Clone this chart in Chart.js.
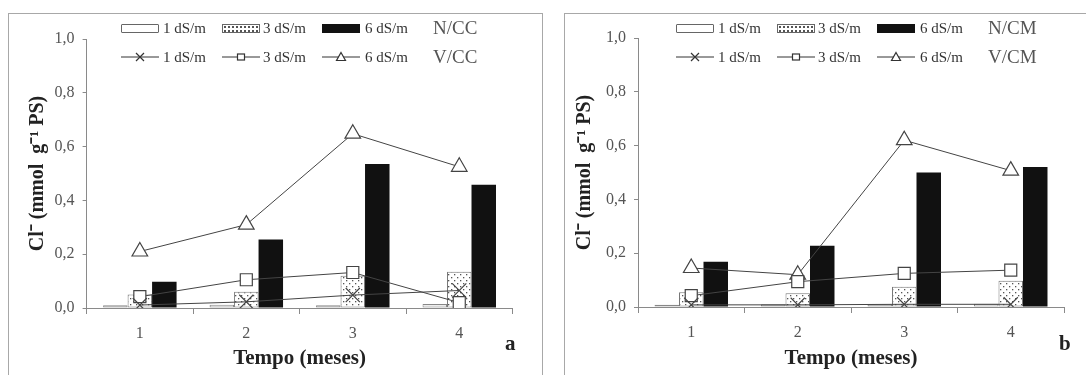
<!DOCTYPE html>
<html>
<head>
<meta charset="utf-8">
<script src="https://cdn.jsdelivr.net/npm/chart.js@4.4.0/dist/chart.umd.min.js"></script>
<style>
body{margin:0;background:#fff;width:1086px;height:375px;overflow:hidden;position:relative;font-family:'Liberation Serif',serif}
.frame{position:absolute;border:1px solid #a8a8a8}
canvas{position:absolute;top:0}
.lg{position:absolute;font-size:15px;color:#333;line-height:16px;white-space:nowrap}
.tag{position:absolute;font-size:19px;color:#555;line-height:20px;white-space:nowrap}
.sw{position:absolute;height:9px;width:38px;box-sizing:border-box}
.letter{position:absolute;font-size:21px;font-weight:bold;color:#222}
</style>
</head>
<body>
<div class="frame" style="left:8px;top:13px;width:533px;height:420px"></div>
<div class="frame" style="left:564px;top:13px;width:600px;height:420px"></div>
<canvas id="chA" width="543" height="375" style="left:0"></canvas>
<canvas id="chB" width="543" height="375" style="left:543px"></canvas>
<div id="legends"></div>
<div class="letter" style="left:505px;top:331px">a</div>
<div class="letter" style="left:1059px;top:331px">b</div>
<script>
// ── Data ──
const months=['1','2','3','4'];
const levels=['1 dS/m','3 dS/m','6 dS/m'];
const yTicks=[0,0.2,0.4,0.6,0.8,1.0];

// Panel a: N/CC bars, V/CC lines
const barsCC1=[0.010,0.012,0.010,0.015];
const barsCC3=[0.050,0.060,0.120,0.135];
const barsCC6=[0.098,0.255,0.535,0.458];
const lineCC1=[0.011,0.023,0.048,0.065];
const lineCC3=[0.042,0.105,0.132,0.020];
const lineCC6=[0.210,0.310,0.648,0.525];

// Panel b: N/CM bars, V/CM lines
const barsCM1=[0.008,0.010,0.010,0.012];
const barsCM3=[0.055,0.051,0.075,0.098];
const barsCM6=[0.168,0.228,0.500,0.520];
const lineCM1=[0.008,0.008,0.010,0.010];
const lineCM3=[0.042,0.094,0.125,0.137];
const lineCM6=[0.145,0.120,0.620,0.507];

const SERIF="'Liberation Serif', 'Times New Roman', serif";
const AXIS='#8a8a8a';
const LINE='#444';

// stippled fill for 3 dS/m bars
function dotPattern(){
  const c=document.createElement('canvas');c.width=6;c.height=6;
  const g=c.getContext('2d');
  g.fillStyle='#fff';g.fillRect(0,0,6,6);
  g.fillStyle='#555';g.fillRect(1,1,1.3,1.3);g.fillRect(4,4,1.3,1.3);
  return g.createPattern(c,'repeat');
}

function makePanel(id,bars,lines,pad){
  const ctx=document.getElementById(id).getContext('2d');
  const barStyle=[
    {backgroundColor:'#ececec',borderColor:'#888',borderWidth:1},
    {backgroundColor:dotPattern(),borderColor:'#777',borderWidth:1},
    {backgroundColor:'#111',borderColor:'#111',borderWidth:0}
  ];
  const lineStyle=[
    {pointStyle:'crossRot',pointRadius:10},
    {pointStyle:'rect',pointRadius:8.5},
    {pointStyle:'triangle',pointRadius:9}
  ];
  const ds=[];
  lines.forEach((d,i)=>ds.push({type:'line',label:levels[i],data:d,order:0,
    borderColor:LINE,borderWidth:1,backgroundColor:'#fff',pointBorderColor:LINE,
    pointBackgroundColor:'#fff',pointBorderWidth:1.2,tension:0,...lineStyle[i]}));
  bars.forEach((d,i)=>ds.push({type:'bar',label:levels[i],data:d,order:1,
    categoryPercentage:0.69,barPercentage:1,borderSkipped:false,...barStyle[i]}));

  return new Chart(ctx,{
    type:'bar',
    data:{labels:months,datasets:ds},
    options:{
      responsive:false,animation:false,
      layout:{padding:{left:pad.left,right:pad.right,top:pad.top,bottom:0}},
      plugins:{legend:{display:false},tooltip:{enabled:false}},
      scales:{
        x:{
          offset:true,
          afterFit:s=>{s.height=pad.xh},
          grid:{display:true,drawOnChartArea:false,drawTicks:true,tickLength:6,color:AXIS,offset:true},
          border:{display:true,color:AXIS,width:1},
          ticks:{color:'#555',font:{family:SERIF,size:16},padding:10},
          title:{display:true,text:'Tempo (meses)',color:'#222',
            font:{family:SERIF,size:21,weight:'bold'},padding:{top:0,bottom:4}}
        },
        y:{
          min:0,max:1,
          afterFit:s=>{s.width=pad.yw},
          afterBuildTicks:s=>{s.ticks=yTicks.map(v=>({value:v}))},
          grid:{display:true,drawOnChartArea:false,drawTicks:true,tickLength:4,color:AXIS},
          border:{display:true,color:AXIS,width:1},
          ticks:{color:'#555',font:{family:SERIF,size:16},padding:8,
            callback:v=>v.toFixed(1).replace('.',',')},
          title:{display:true,text:'Cl\u207B (mmol  g\u207B\u00B9 PS)',color:'#222',
            font:{family:SERIF,size:20,weight:'bold'},padding:{top:pad.tp,bottom:0}}
        }
      }
    }
  });
}

makePanel('chA',[barsCC1,barsCC3,barsCC6],[lineCC1,lineCC3,lineCC6],
  {left:8,yw:78.6,right:30.5,top:39,xh:67,tp:18});
makePanel('chB',[barsCM1,barsCM3,barsCM6],[lineCM1,lineCM3,lineCM6],
  {left:21,yw:74,right:22,top:38,xh:68,tp:9});

// ── Legend (HTML) ──
const markerSvg=[
  '<path d="M15 4 L23 12 M23 4 L15 12" stroke="#333" stroke-width="1.2" fill="none"/>',
  '<rect x="15.5" y="5" width="7" height="6" stroke="#333" stroke-width="1.2" fill="#fff"/>',
  '<path d="M19 3.5 L23.5 11.5 L14.5 11.5 Z" stroke="#333" stroke-width="1.2" fill="#fff"/>'
];
const swatchCss=[
  'background:#fff;border:1px solid #666;border-radius:1px',
  'background:#fff radial-gradient(#555 0.8px,transparent 1px) 0 0/4px 4px;border:1px solid #666',
  'background:#111;border:1px solid #111'
];
function addLegend(ox,barTag,lineTag){
  const box=document.getElementById('legends');
  const offs=[0,101,201];
  const txt=[42,142,244];
  let h='';
  levels.forEach((lv,i)=>{
    h+=`<div class="sw" style="left:${ox+offs[i]}px;top:24px;${swatchCss[i]}"></div>`;
    h+=`<div class="lg" style="left:${ox+txt[i]}px;top:20px">${lv}</div>`;
    h+=`<svg style="position:absolute;left:${ox+offs[i]}px;top:49px" width="38" height="16"><line x1="0" y1="8" x2="38" y2="8" stroke="#333" stroke-width="1"/>${markerSvg[i]}</svg>`;
    h+=`<div class="lg" style="left:${ox+txt[i]}px;top:49px">${lv}</div>`;
  });
  h+=`<div class="tag" style="left:${ox+312}px;top:18px">${barTag}</div>`;
  h+=`<div class="tag" style="left:${ox+312}px;top:47px">${lineTag}</div>`;
  box.insertAdjacentHTML('beforeend',h);
}
addLegend(121,'N/CC','V/CC');
addLegend(676,'N/CM','V/CM');
</script>
</body>
</html>
